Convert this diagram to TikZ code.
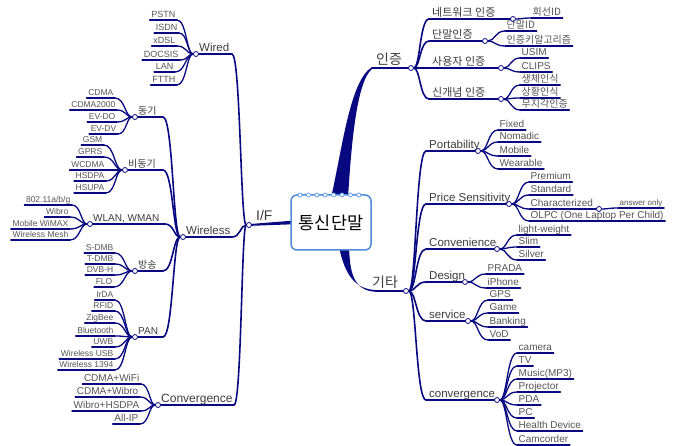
\documentclass[tikz,border=0pt]{standalone}
\usepackage{fontspec}
\setmainfont{Liberation Sans}
\newfontfamily\kr{Noto Sans CJK KR}
\usetikzlibrary{calc}
\definecolor{navy}{RGB}{8,8,128}
\definecolor{txt}{RGB}{85,85,85}
\definecolor{mtxt}{RGB}{60,60,60}
\definecolor{ringblue}{RGB}{110,165,235}
\definecolor{boxblue}{RGB}{80,140,220}
\pgfdeclarelayer{bg}
\pgfsetlayers{bg,main}
\def\leaffont{\fontsize{8.5}{10}\selectfont}
\def\midfont{\fontsize{11.5}{13}\selectfont}
\newcommand\leafR[5]{%
  \node[leafnode,anchor=south west] (#1) at (#3,#4) {#5};
  \begin{pgfonlayer}{bg}
   \draw[ul] (#1.south west) -- (#1.south east);
   \draw[ul,conn] (#2) to (#1.south west);
  \end{pgfonlayer}}
\newcommand\leafL[5]{%
  \node[leafnode,anchor=south east] (#1) at (#3,#4) {#5};
  \begin{pgfonlayer}{bg}
   \draw[ul] (#1.south west) -- (#1.south east);
   \draw[ul,conn] (#1.south east) to (#2);
  \end{pgfonlayer}}
\newcommand\midL[6]{%
  \node[dot] (#1) at (#3,#4) {};
  \node[midnode,anchor=south west] (#1t) at (#3+2,#4) {#6};
  \coordinate (#1e) at (#5,#4);
  \begin{pgfonlayer}{bg}
   \draw[ulm] (#1) -- (#1e);
   \draw[ulm,conn] (#1e) to (#2);
  \end{pgfonlayer}}
\newcommand\midR[6]{%
  \coordinate (#1s) at (#3,#4);
  \node[midnode,anchor=south west] (#1t) at (#3+2,#4) {#6};
  \node[dot] (#1) at (#5,#4) {};
  \begin{pgfonlayer}{bg}
   \draw[ulm] (#1s) -- (#1);
   \draw[ulm,conn] (#2) to (#1s);
  \end{pgfonlayer}}
\begin{document}
\begin{tikzpicture}[x=1pt,y=-1pt,
  leafnode/.style={font=\leaffont, text=txt, inner xsep=1.5pt, inner ysep=0.3pt, text depth=1.6pt},
  midnode/.style={font=\midfont, text=mtxt, inner xsep=1pt, inner ysep=0.3pt, text depth=2pt},
  topnode/.style={font=\fontsize{14}{16}\selectfont, text=mtxt, inner xsep=1pt, inner ysep=0.5pt, text depth=2.5pt},
  dot/.style={circle, draw=navy, fill=white, line width=0.8pt, inner sep=0pt, minimum size=5pt},
  ul/.style={draw=navy, line width=1.3pt, line cap=round},
  ulm/.style={draw=navy, line width=1.6pt, line cap=round},
  ultop/.style={draw=navy, line width=2pt, line cap=round},
  conn/.style={to path={let \p1=(\tikztostart), \p2=(\tikztotarget), \n1={0.5*(\x1+\x2)} in .. controls (\n1,\y1) and (\n1,\y2) .. (\tikztotarget)}},
  centerbox/.style={rectangle, rounded corners=6pt, draw=boxblue, line width=1.5pt, fill=white, minimum width=80pt, minimum height=55pt, font=\fontsize{17.5}{20}\selectfont\kr, text=black}
]
\useasboundingbox (0,0) rectangle (683,446);
% centre
\node[centerbox] (ctr) at (331,222.5) {통신단말};
\foreach \i in {0,...,7} \draw[ringblue, line width=0.8pt, fill=white] (300+8.4*\i,195) circle (2);
% top-level
\node[dot] (IF) at (249,225) {};
\node[topnode,anchor=south west] (IFt) at (255,224) {I/F};
\node[dot] (AU) at (411,68) {};
\node[topnode,anchor=south west] (AUt) at (375,68) {\kr 인증};
\node[dot] (ET) at (406,291) {};
\node[topnode,anchor=south west] (ETt) at (371,291) {\kr 기타};
\coordinate (AUs) at (372,68);
\coordinate (ETs) at (378,291);
\begin{pgfonlayer}{bg}
 \fill[navy] (IF.center) ++(0,-0.9) -- ($(ctr.west)+(2,-1.8)$) -- ($(ctr.west)+(2,1.8)$) -- ($(IF.center)+(0,0.9)$) -- cycle;
 \fill[navy] (331,198) .. controls (342,150) and (350,80) .. ($(AUs)+(0,-0.9)$) -- ($(AUs)+(0,0.9)$) .. controls (356,82) and (351,150) .. (348,198) -- cycle;
 \fill[navy] (339,247) .. controls (345,275) and (355,290.1) .. ($(ETs)+(0,-0.9)$) -- ($(ETs)+(0,0.9)$) .. controls (352,292) and (350,270) .. (349,247) -- cycle;
 \draw[ultop] (AUs) -- (AU);
 \draw[ultop] (ETs) -- (ET);
\end{pgfonlayer}
% ---------- left side ----------
\midL{wired}{IF}{196}{54}{232}{Wired}
\midL{wless}{IF}{183}{237}{232}{Wireless}
\def\midfont{\fontsize{12}{14}\selectfont}
\midL{convl}{IF}{158}{405}{234}{Convergence}
\def\midfont{\fontsize{10}{12}\selectfont}
\midL{sync}{wless}{135}{117}{163}{\kr 동기}
\midL{async}{wless}{125}{170}{163}{\kr 비동기}
\midL{wlan}{wless}{90}{224}{165}{WLAN, WMAN}
\midL{bcast}{wless}{135}{271}{163}{\kr 방송}
\midL{pan}{wless}{135}{337}{163}{PAN}
\def\leaffont{\fontsize{9}{11}\selectfont}
\leafL{pstn}{wired}{177}{20}{PSTN}
\leafL{isdn}{wired}{179}{33}{ISDN}
\leafL{xdsl}{wired}{177}{46}{xDSL}
\leafL{docsis}{wired}{180}{60}{DOCSIS}
\leafL{lan}{wired}{175}{72}{LAN}
\leafL{ftth}{wired}{177}{85}{FTTH}
\def\leaffont{\fontsize{8.5}{10}\selectfont}
\leafL{cdma}{sync}{115}{98}{CDMA}
\leafL{cdmaii}{sync}{117}{110}{CDMA2000}
\leafL{evdo}{sync}{117}{122}{EV-DO}
\leafL{evdv}{sync}{118}{134}{EV-DV}
\leafL{gsm}{async}{104}{145}{GSM}
\leafL{gprs}{async}{104}{157}{GPRS}
\leafL{wcdma}{async}{106}{170}{WCDMA}
\leafL{hsdpa}{async}{106}{181}{HSDPA}
\leafL{hsupa}{async}{106}{193}{HSUPA}
\leafL{wifi}{wlan}{72}{205}{802.11a/b/g}
\leafL{wibro}{wlan}{70}{217}{Wibro}
\leafL{wimax}{wlan}{70}{229}{Mobile WiMAX}
\leafL{mesh}{wlan}{70}{240}{Wireless Mesh}
\leafL{sdmb}{bcast}{115}{253}{S-DMB}
\leafL{tdmb}{bcast}{115}{264}{T-DMB}
\leafL{dvbh}{bcast}{115}{275}{DVB-H}
\leafL{flo}{bcast}{114}{287}{FLO}
\leafL{irda}{pan}{115}{300}{IrDA}
\leafL{rfid}{pan}{115}{311}{RFID}
\leafL{zigbee}{pan}{115}{323}{ZigBee}
\leafL{bt}{pan}{115}{336}{Bluetooth}
\leafL{uwb}{pan}{115}{347}{UWB}
\leafL{wusb}{pan}{115}{359}{Wireless USB}
\leafL{wieee}{pan}{115}{370}{Wireless 1394}
\def\leaffont{\fontsize{10}{12}\selectfont}
\leafL{cwifi}{convl}{141}{384}{CDMA+WiFi}
\leafL{cwibro}{convl}{140}{397}{CDMA+Wibro}
\leafL{whsdpa}{convl}{141}{411}{Wibro+HSDPA}
\leafL{allip}{convl}{140}{424}{All-IP}
% ---------- right side ----------
\def\midfont{\fontsize{11}{13}\selectfont\kr}
\midR{net}{AU}{429}{19}{513}{네트워크 인증}
\midR{dev}{AU}{429}{41}{485}{단말인증}
\midR{usr}{AU}{429}{68}{501}{사용자 인증}
\midR{newa}{AU}{429}{99}{501}{신개념 인증}
\def\midfont{\fontsize{11.5}{13}\selectfont}
\midR{port}{ET}{426}{151}{478}{Portability}
\midR{price}{ET}{426}{204}{509}{Price Sensitivity}
\midR{conv}{ET}{426}{249}{497}{Convenience}
\midR{design}{ET}{426}{282}{465}{Design}
\midR{serv}{ET}{426}{321}{468}{service}
\midR{convr}{ET}{426}{400}{497}{convergence}
\def\leaffont{\fontsize{10}{12}\selectfont}
\leafR{line}{net}{531}{18}{\kr 회선ID}
\leafR{devid}{dev}{505}{31}{\kr 단말ID}
\leafR{algo}{dev}{505}{46}{\kr 인증키알고리즘}
\leafR{usim}{usr}{520}{58}{USIM}
\leafR{clips}{usr}{520}{72}{CLIPS}
\leafR{bio}{newa}{520}{85}{\kr 생체인식}
\leafR{situ}{newa}{520}{98}{\kr 상황인식}
\leafR{unaw}{newa}{520}{110}{\kr 무지각인증}
\leafR{fixed}{port}{498}{130}{Fixed}
\leafR{nomadic}{port}{498}{142}{Nomadic}
\leafR{mobile}{port}{498}{156}{Mobile}
\leafR{wear}{port}{498}{169}{Wearable}
\leafR{prem}{price}{529}{182}{Premium}
\leafR{std}{price}{529}{195}{Standard}
\leafR{char}{price}{529}{209}{Characterized}
\leafR{olpc}{price}{529}{221}{OLPC (One Laptop Per Child)}
\node[dot] (charc) at (599,209) {};
\begin{pgfonlayer}{bg}\draw[ul] (char.south east) -- (charc);\end{pgfonlayer}
\leafR{light}{conv}{517}{235}{light-weight}
\leafR{slim}{conv}{517}{247}{Slim}
\leafR{silver}{conv}{517}{260}{Silver}
\leafR{prada}{design}{486}{274}{PRADA}
\leafR{iphone}{design}{486}{288}{iPhone}
\leafR{gps}{serv}{488}{300}{GPS}
\leafR{game}{serv}{488}{313}{Game}
\leafR{bank}{serv}{488}{327}{Banking}
\leafR{vod}{serv}{488}{340}{VoD}
\leafR{camera}{convr}{517}{353}{camera}
\leafR{tv}{convr}{517}{366}{TV}
\leafR{music}{convr}{517}{379}{Music(MP3)}
\leafR{proj}{convr}{517}{392}{Projector}
\leafR{pda}{convr}{517}{405}{PDA}
\leafR{pc}{convr}{517}{418}{PC}
\leafR{health}{convr}{517}{431}{Health Device}
\leafR{camc}{convr}{517}{445}{Camcorder}
\def\leaffont{\fontsize{8}{10}\selectfont}
\leafR{ans}{charc}{618}{208}{answer only}
\end{tikzpicture}
\end{document}
